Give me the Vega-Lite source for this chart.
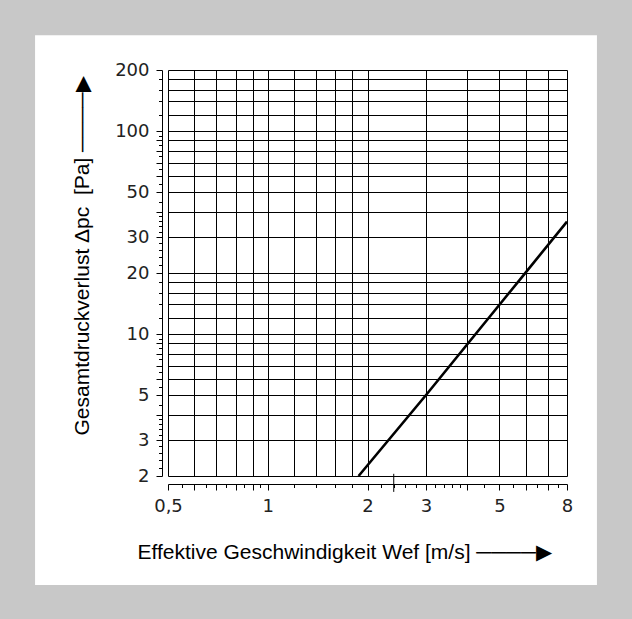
{
  "$schema": "https://vega.github.io/schema/vega-lite/v6.json",
  "width": 399,
  "height": 406,
  "autosize": {"type": "none"},
  "padding": {"left": 168, "top": 70, "right": 65, "bottom": 143},
  "background": "#c8c8c8",
  "config": {"view": {"stroke": null}},
  "datasets": {
    "panel": [{"x1": 0.1985, "x2": 9.85, "y1": 0.581, "y2": 297}],
    "curve": [{"w": 1.88, "dp": 2}, {"w": 3, "dp": 5}, {"w": 6, "dp": 20.1}, {"w": 8, "dp": 35.8}],
    "extra": [{"w": 2.4, "lo": 1.67, "hi": 2.05}]
  },
  "layer": [
    {
      "data": {"name": "panel"},
      "mark": {"type": "rect", "fill": "white", "clip": false},
      "encoding": {
        "x": {
          "field": "x1", "type": "quantitative",
          "scale": {"type": "log", "domain": [0.5, 8], "nice": false},
          "axis": {
            "orient": "bottom", "zindex": 1,
            "values": [0.5, 0.6, 0.7, 0.8, 0.9, 1, 1.2, 1.4, 1.6, 1.8, 2, 3, 4, 5, 6, 7, 8],
            "grid": true, "gridColor": "#000", "gridOpacity": 1, "gridWidth": 1,
            "ticks": false, "labels": false, "domain": false, "title": null
          }
        },
        "x2": {"field": "x2"},
        "y": {
          "field": "y1", "type": "quantitative",
          "scale": {"type": "log", "domain": [2, 200], "nice": false},
          "axis": {
            "orient": "left", "zindex": 1,
            "values": [2, 3, 4, 5, 6, 7, 8, 9, 10, 12, 14, 16, 18, 20, 30, 40, 50, 60, 70, 80, 90, 100, 120, 140, 160, 180, 200],
            "grid": true, "gridColor": "#000", "gridOpacity": 1, "gridWidth": 1,
            "ticks": false, "labels": false, "domain": false, "title": null
          }
        },
        "y2": {"field": "y2"}
      }
    },
    {
      "data": {"name": "curve"},
      "mark": {"type": "line", "color": "#000", "strokeWidth": 2.6, "clip": false},
      "encoding": {
        "x": {
          "field": "w", "type": "quantitative",
          "axis": {
            "orient": "bottom", "zindex": 1, "offset": 8,
            "values": [0.5, 0.55, 0.6, 0.65, 0.7, 0.75, 0.8, 0.85, 0.9, 0.95, 1, 1.2, 1.4, 1.6, 1.8, 2, 2.2, 2.4, 2.6, 2.8, 3, 3.2, 3.4, 3.6, 3.8, 4, 4.5, 5, 5.5, 6, 6.5, 7, 7.5, 8],
            "grid": false, "domain": true, "domainColor": "#000", "domainWidth": 1,
            "tickColor": "#000", "tickWidth": 1,
            "tickSize": {"condition": {"test": "indexof([0.5,0.6,0.7,0.8,0.9,1,2,3,4,5,6,7,8], datum.value) >= 0", "value": 6}, "value": 3.5},
            "format": "~g",
            "labelExpr": "datum.value == 0.5 ? '0,5' : (indexof([1,2,3,5,8], datum.value) >= 0 ? datum.label : '')",
            "labelOverlap": false, "labelFlush": false, "labelBound": false,
            "labelFont": "DejaVu Sans", "labelFontSize": 18, "labelColor": "#222", "labelPadding": 7,
            "title": "Effektive Geschwindigkeit Wef [m/s]  ────▶",
            "titleFont": "Liberation Sans", "titleFontSize": 21, "titleFontWeight": "normal", "titleColor": "#000",
            "titleAlign": "left", "titleBaseline": "alphabetic", "titleX": -31, "titleY": 74
          }
        },
        "y": {
          "field": "dp", "type": "quantitative",
          "axis": {
            "orient": "left", "zindex": 1, "offset": 6,
            "values": [2, 2.2, 2.4, 2.6, 2.8, 3, 3.2, 3.4, 3.6, 3.8, 4, 4.5, 5, 5.5, 6, 6.5, 7, 7.5, 8, 8.5, 9, 9.5, 10, 12, 14, 16, 18, 20, 22, 24, 26, 28, 30, 32, 34, 36, 38, 40, 45, 50, 55, 60, 65, 70, 75, 80, 85, 90, 95, 100, 120, 140, 160, 180, 200],
            "grid": false, "domain": true, "domainColor": "#000", "domainWidth": 1,
            "tickColor": "#000", "tickWidth": 1,
            "tickSize": {"condition": {"test": "indexof([2,3,4,5,6,7,8,9,10,20,30,40,50,60,70,80,90,100,200], datum.value) >= 0", "value": 6}, "value": 3.5},
            "format": "~g",
            "labelExpr": "indexof([2,3,5,10,20,30,50,100,200], datum.value) >= 0 ? datum.label : ''",
            "labelOverlap": false, "labelFlush": false, "labelBound": false,
            "labelFont": "DejaVu Sans", "labelFontSize": 18, "labelColor": "#222", "labelPadding": 7,
            "title": "Gesamtdruckverlust Δpc\u00a0\u00a0[Pa] ────▶",
            "titleFont": "Liberation Sans", "titleFontSize": 21, "titleFontWeight": "normal", "titleColor": "#000",
            "titleAngle": 270, "titleAlign": "left", "titleBaseline": "alphabetic", "titleX": -74, "titleY": 365
          }
        }
      }
    },
    {
      "data": {"name": "extra"},
      "mark": {"type": "rule", "color": "#000", "strokeWidth": 1, "clip": false},
      "encoding": {
        "x": {"field": "w", "type": "quantitative", "axis": null},
        "y": {"field": "lo", "type": "quantitative", "axis": null},
        "y2": {"field": "hi"}
      }
    }
  ],
  "resolve": {"axis": {"x": "independent", "y": "independent"}}
}
